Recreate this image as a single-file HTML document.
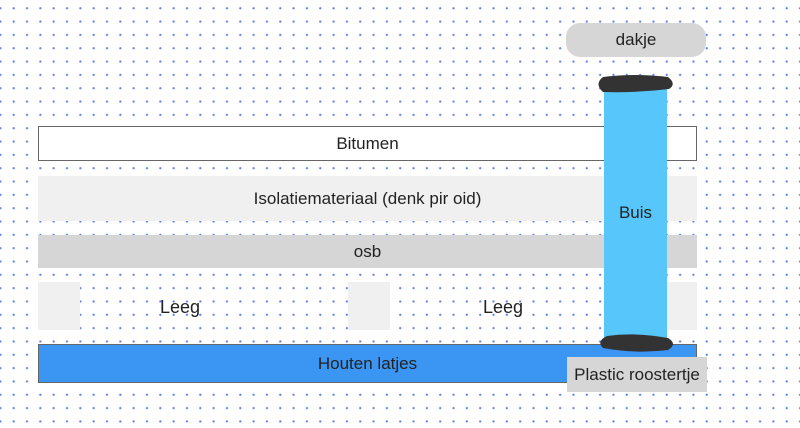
<!DOCTYPE html>
<html><head><meta charset="utf-8"><style>
body{margin:0;width:800px;height:428px;overflow:hidden;background:#fff;font-family:"Liberation Sans",sans-serif;}
.bg{position:absolute;left:0;top:0;width:800px;height:428px;
background-image:radial-gradient(circle,#5a7ef2 0.9px,transparent 1.3px);
background-size:13.333px 13.333px;background-position:-6.3px 1.6px;}
.b{position:absolute;box-sizing:border-box;display:flex;align-items:center;justify-content:center;font-size:17px;color:#222;}
</style></head><body>
<div class="bg"></div>
<div class="b" style="left:566px;top:23px;width:140px;height:34px;background:#d6d6d6;border-radius:14px;">dakje</div>
<div class="b" style="left:38px;top:126px;width:659px;height:35px;background:#fff;border:1.5px solid #666;">Bitumen</div>
<div class="b" style="left:38px;top:176px;width:659px;height:45px;background:#f0f0f0;">Isolatiemateriaal (denk pir oid)</div>
<div class="b" style="left:38px;top:235px;width:659px;height:33px;background:#d6d6d6;">osb</div>
<div class="b" style="left:38px;top:282px;width:42px;height:48px;background:#f0f0f0;"></div>
<div class="b" style="left:348px;top:282px;width:42px;height:48px;background:#f0f0f0;"></div>
<div class="b" style="left:667px;top:282px;width:30px;height:48px;background:#f0f0f0;"></div>
<div class="b" style="left:140px;top:292px;width:80px;height:30px;font-size:18px;">Leeg</div>
<div class="b" style="left:463px;top:292px;width:80px;height:30px;font-size:18px;">Leeg</div>
<div class="b" style="left:38px;top:344px;width:659px;height:39px;background:#3b95f2;border:1.5px solid #666;">Houten latjes</div>
<div class="b" style="left:604px;top:78px;width:63px;height:270px;background:#57c7fb;">Buis</div>
<svg style="position:absolute;left:0;top:0" width="800" height="428">
<path d="M603 77 Q635 73 668 77 Q677 84 669 89 Q636 93 603 92 Q594 84 603 77Z" fill="#333"/>
<path d="M607 336 Q636 332 668 338 Q678 344 668 350 Q636 354 603 348 Q596 341 607 336Z" fill="#333"/>
</svg>
<div class="b" style="left:567px;top:357px;width:140px;height:35px;background:#d6d6d6;">Plastic roostertje</div>
</body></html>
